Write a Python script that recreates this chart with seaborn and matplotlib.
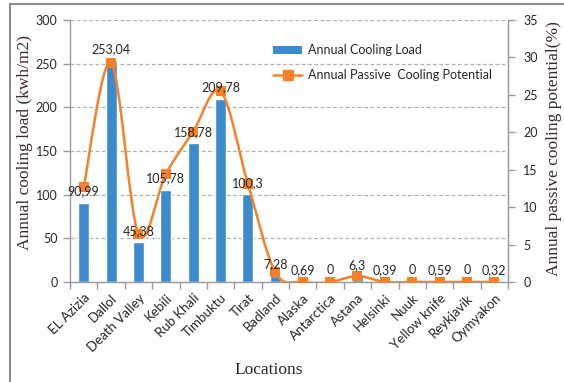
import matplotlib
matplotlib.use("Agg")
import matplotlib.pyplot as plt
from matplotlib.path import Path
from matplotlib.patches import PathPatch, Rectangle, Patch
from matplotlib.lines import Line2D
import numpy as np
import pandas as pd
import seaborn as sns

locations = ["EL Azizia", "Dallol", "Death Valley", "Kebili", "Rub Khali", "Timbuktu",
             "Tirat", "Badland", "Alaska", "Antarctica", "Astana", "Helsinki", "Nuuk",
             "Yellow knife", "Reykjavik", "Oymyakon"]
cooling_load = [90.99, 253.04, 45.38, 105.78, 158.78, 209.78, 100.3, 7.28, 0.69, 0,
                6.3, 0.39, 0, 0.59, 0, 0.32]
passive_potential = [12.7, 29.3, 6.4, 14.4, 20.1, 25.5, 13.1, 1.3, 0, 0,
                     0.8, 0, 0, 0, 0, 0]
left_ticks = [0, 50, 100, 150, 200, 250, 300]
right_ticks = [0, 5, 10, 15, 20, 25, 30, 35]

BLUE = "#3d8bcf"
ORANGE = "#f5822a"
SPINE = "#9a9a9a"
TXT = "#262626"
TICK_FONT = "Lato"
TITLE_FONT = "Liberation Serif"

sns.set_style("white")
plt.rcParams["font.family"] = [TICK_FONT, "DejaVu Sans"]

df = pd.DataFrame({"Location": locations, "Load": cooling_load, "Passive": passive_potential})

W, H = 564, 382
fig = plt.figure(figsize=(W / 100, H / 100), dpi=100)
ax = fig.add_axes([70 / W, 1 - 282 / H, (508 - 70) / W, (282 - 20) / H])

sns.barplot(data=df, x="Location", y="Load", order=locations, color=BLUE,
            saturation=1, width=0.4, ax=ax, zorder=2)
ax.set_ylim(0, 300)
ax.set_xlim(-0.5, len(locations) - 0.5)
ax.set_yticks(left_ticks)
ax.yaxis.grid(True, linestyle=(0, (3, 2)), color="#b0b0b0", linewidth=0.9, zorder=0)
ax.set_axisbelow(True)

ax.spines["top"].set_visible(False)
for s in ["left", "bottom", "right"]:
    ax.spines[s].set_color(SPINE)
    ax.spines[s].set_linewidth(1.0)

ax.tick_params(axis="y", which="major", direction="out", length=5, width=1,
               color=SPINE, labelsize=9, labelcolor=TXT, left=True, pad=4)
ax.set_xticks(np.arange(len(locations)))
ax.set_xticklabels(locations, rotation=45, ha="right", rotation_mode="anchor")
ax.tick_params(axis="x", which="major", length=0, labelsize=9.5, labelcolor=TXT, pad=7)
ax.set_xticks(np.arange(-0.5, len(locations) + 0.5, 1), minor=True)
ax.tick_params(axis="x", which="minor", direction="out", length=5, width=1,
               color=SPINE, bottom=True)
ax.set_xlabel("")
ax.set_ylabel("")

# secondary axis with the smoothed passive-cooling curve
ax2 = ax.twinx()
ax2.set_ylim(0, 35)
ax2.set_yticks(right_ticks)
ax2.tick_params(axis="y", direction="out", length=5, width=1, color=SPINE,
                labelsize=9, labelcolor=TXT, right=True, pad=6)
for s in ["top", "left", "bottom"]:
    ax2.spines[s].set_visible(False)
ax2.spines["right"].set_color(SPINE)

xs = np.arange(len(locations), dtype=float)
ys = np.array(passive_potential, dtype=float)
verts = [(xs[0], ys[0])]
codes = [Path.MOVETO]
n = len(xs)
for i in range(n - 1):
    p0 = np.array([xs[max(i - 1, 0)], ys[max(i - 1, 0)]])
    p1 = np.array([xs[i], ys[i]])
    p2 = np.array([xs[i + 1], ys[i + 1]])
    p3 = np.array([xs[min(i + 2, n - 1)], ys[min(i + 2, n - 1)]])
    c1 = p1 + (p2 - p0) / 6.0
    c2 = p2 - (p3 - p1) / 6.0
    verts += [tuple(c1), tuple(c2), tuple(p2)]
    codes += [Path.CURVE4] * 3
ax2.add_patch(PathPatch(Path(verts, codes), facecolor="none", edgecolor=ORANGE,
                        linewidth=1.8, zorder=3))
sns.scatterplot(x=xs, y=ys, marker="s", s=45, color=ORANGE, edgecolor=ORANGE,
                linewidth=0, ax=ax2, zorder=4, legend=False)
ax2.set_ylabel("")

# bar value labels, drawn on the top axes so they sit above the curve
for i, v in enumerate(cooling_load):
    ax2.annotate(f"{v:g}".replace(".", ","), xy=(i, v), xycoords=ax.transData,
                 xytext=(0, 4), textcoords="offset points", ha="center", va="bottom",
                 fontsize=9, color=TXT, zorder=6)

# legend
handles = [Patch(facecolor=BLUE, edgecolor="none"),
           Line2D([], [], color=ORANGE, linewidth=1.8, marker="s", markersize=7)]
fig.legend(handles, ["Annual Cooling Load", "Annual Passive  Cooling Potential"],
           loc="upper left", bbox_to_anchor=(262 / W, 1 - 33 / H),
           frameon=False, fontsize=9, handlelength=2.3, handleheight=0.6,
           labelspacing=1.0, handletextpad=0.5, labelcolor=TXT)

# axis titles
fig.text(25 / W, 1 - 142 / H, "Annual cooling load (kwh/m2)", rotation=90,
         ha="center", va="center", fontsize=12.5, family=TITLE_FONT, color="#3a2a2a")
fig.text(554 / W, 1 - 149 / H, "Annual passive cooling potential(%)", rotation=90,
         ha="center", va="center", fontsize=12.5, family=TITLE_FONT, color="#3a2a2a")
fig.text(269 / W, 1 - 370 / H, "Locations", ha="center", va="center",
         fontsize=12.5, family=TITLE_FONT, color=TXT)

# outer chart frame
fig.patches.append(Rectangle((10 / W, -0.1), 1.2, 1 - 4 / H + 0.1,
                             transform=fig.transFigure, fill=False,
                             edgecolor="#8c8c8c", linewidth=1.5))

fig.savefig("out.png", dpi=100)
